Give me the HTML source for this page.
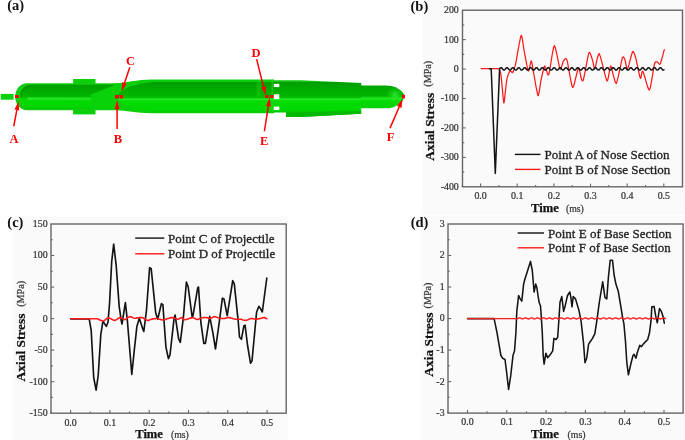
<!DOCTYPE html>
<html><head><meta charset="utf-8"><style>
html,body{margin:0;padding:0;background:#fff;}
body{width:685px;height:440px;overflow:hidden;position:relative;}
svg{position:absolute;left:0;top:0;font-family:"Liberation Serif", serif;will-change:transform;}
.t{stroke:#222;stroke-width:0.3px;}
.k{stroke:#333;stroke-width:0.22px;}
.b{stroke:#111;stroke-width:0.25px;}
</style></head><body>
<svg width="685" height="440" viewBox="0 0 685 440">
<rect x="422" y="0" width="263" height="214.5" fill="#fafafa"/>
<rect x="421" y="216" width="264" height="224" fill="#fafafa"/>
<rect x="13.5" y="216.5" width="274" height="223.5" fill="#fafafa"/>

<defs>
<linearGradient id="g1" gradientUnits="userSpaceOnUse" x1="0" y1="84.8" x2="0" y2="108.8">
 <stop offset="0" stop-color="#009c00"/>
 <stop offset="0.09" stop-color="#00a400"/>
 <stop offset="0.425" stop-color="#00b200"/>
 <stop offset="0.5" stop-color="#00b800"/>
 <stop offset="0.6" stop-color="#06d806"/>
 <stop offset="0.66" stop-color="#04da04"/>
 <stop offset="0.92" stop-color="#02d602"/>
 <stop offset="1" stop-color="#00c800"/>
</linearGradient>
<linearGradient id="g2" gradientUnits="userSpaceOnUse" x1="0" y1="79.4" x2="0" y2="116.9">
 <stop offset="0" stop-color="#14c814"/>
 <stop offset="0.056" stop-color="#12c412"/>
 <stop offset="0.083" stop-color="#009e00"/>
 <stop offset="0.176" stop-color="#00a600"/>
 <stop offset="0.363" stop-color="#00b000"/>
 <stop offset="0.469" stop-color="#00b800"/>
 <stop offset="0.504" stop-color="#12d412"/>
 <stop offset="0.536" stop-color="#26ea26"/>
 <stop offset="0.573" stop-color="#04dc04"/>
 <stop offset="0.816" stop-color="#02d802"/>
 <stop offset="0.87" stop-color="#00c800"/>
 <stop offset="0.904" stop-color="#00c000"/>
 <stop offset="1" stop-color="#00b800"/>
</linearGradient>
<linearGradient id="g4" gradientUnits="userSpaceOnUse" x1="0" y1="85.6" x2="0" y2="108.3">
 <stop offset="0" stop-color="#00a400"/>
 <stop offset="0.45" stop-color="#00b400"/>
 <stop offset="0.52" stop-color="#12d412"/>
 <stop offset="0.58" stop-color="#28e828"/>
 <stop offset="0.66" stop-color="#06dc06"/>
 <stop offset="1" stop-color="#04d004"/>
</linearGradient>
<linearGradient id="hl1" x1="0" y1="0" x2="1" y2="0">
 <stop offset="0" stop-color="#2ee62e" stop-opacity="0"/>
 <stop offset="0.05" stop-color="#34ea34" stop-opacity="0.9"/>
 <stop offset="0.1" stop-color="#2ae62a" stop-opacity="0.8"/>
 <stop offset="1" stop-color="#26e426" stop-opacity="0.8"/>
</linearGradient>
<radialGradient id="nspot" cx="395" cy="95" r="9" gradientUnits="userSpaceOnUse">
 <stop offset="0" stop-color="#30ea30" stop-opacity="0.9"/>
 <stop offset="1" stop-color="#14dc14" stop-opacity="0"/>
</radialGradient>
</defs>
<rect x="0.7" y="93.9" width="12.9" height="5.8" fill="#0ad20a"/>
<rect x="73.1" y="79" width="22.4" height="35.4" fill="#0bcf0b"/>
<path d="M118,83.3 L27,83.3 C19.5,83.3 15.2,90 15.2,96.8 C15.2,103.6 19.5,110.3 27,110.3 L118,110.3 Z" fill="#14cc14"/>
<path d="M118,84.8 L30.5,84.8 A10.6,12 0 0 0 19.9,96.8 A10.6,12 0 0 0 30.5,108.8 L118,108.8 Z" fill="url(#g1)"/>
<path d="M31,85.6 A10,11.2 0 0 0 21,96.8" fill="none" stroke="#008c00" stroke-width="1.6" opacity="0.55"/>
<rect x="26" y="97.4" width="65" height="2.6" fill="url(#hl1)"/>
<path d="M91,94.5 L115,85 L118,85 L118,108.8 L91,108.8 Z" fill="#0ad20a"/>
<path d="M116,83.3 C126,82.6 136,79.6 152,79.4 L274,79.4 L274,113.2 L152,113.2 C136,113 126,110.6 116,110.3 Z" fill="#0ccf0c"/>
<path d="M116.5,97 C121,89.5 131,83.8 156,81.8 L274,81.8 L274,111.6 L156,111.6 C131,110 121,104.5 116.5,97 Z" fill="url(#g2)"/>
<path d="M273,80.2 L300.8,80.2 L361.2,83.1 L361.2,113.7 L300.7,116.9 L286,116.9 L286,112.6 L273,112.6 Z" fill="url(#g2)"/>
<path d="M286,112.6 L361.2,111.2 L361.2,113.7 L300.7,116.9 L286,116.9 Z" fill="#04b804"/>
<rect x="256.8" y="81.8" width="3.8" height="15.5" fill="#10c810" opacity="0.55"/>
<rect x="271.5" y="79.4" width="1.5" height="33.8" fill="#22d622" opacity="0.6"/>
<path d="M361,85.6 L385,85.6 C396,85.6 402.5,90.5 404.9,96.4 C402.5,102.6 396,108.3 385,108.3 L361,108.3 Z" fill="url(#g4)"/>
<path d="M385,85.6 C396,85.6 402.5,90.5 404.9,96.4 C402.5,102.6 396,108.3 385,108.3 Z" fill="url(#nspot)"/>
<rect x="273.8" y="83.8" width="5.5" height="3.3" fill="#fff"/>
<rect x="273.8" y="94.3" width="5.5" height="4.8" fill="#fff"/>
<rect x="273.8" y="106.6" width="5.5" height="3.4" fill="#fff"/>
<rect x="15" y="95" width="3.7" height="3.0" fill="#ff0000"/>
<rect x="115" y="95" width="3.7" height="3.5" fill="#ff0000"/>
<rect x="119.7" y="95" width="3.2" height="3.5" fill="#ff0000"/>
<rect x="265.2" y="95" width="3.4" height="3.0" fill="#ff0000"/>
<rect x="270.3" y="95" width="3.1" height="3.0" fill="#ff0000"/>
<rect x="401.9" y="94.7" width="3.0" height="3.7" fill="#ff0000"/>
<line x1="13.75" y1="126.25" x2="16.8" y2="110.1" stroke="#ff0000" stroke-width="1.5"/><polygon points="18.5,101.25 19.2,110.5 14.5,109.6" fill="#ff0000"/>
<line x1="117.1" y1="129" x2="117.1" y2="109.0" stroke="#ff0000" stroke-width="1.5"/><polygon points="117.1,100 119.5,109.0 114.7,109.0" fill="#ff0000"/>
<line x1="129.8" y1="67.2" x2="124.5" y2="83.1" stroke="#ff0000" stroke-width="1.5"/><polygon points="121.6,91.6 122.2,82.3 126.7,83.8" fill="#ff0000"/>
<line x1="256.6" y1="59.1" x2="263.5" y2="86.6" stroke="#ff0000" stroke-width="1.5"/><polygon points="265.7,95.3 261.2,87.2 265.8,86.0" fill="#ff0000"/>
<line x1="264.4" y1="131.25" x2="268.3" y2="106.4" stroke="#ff0000" stroke-width="1.5"/><polygon points="269.75,97.5 270.7,106.8 266.0,106.0" fill="#ff0000"/>
<line x1="390" y1="128.1" x2="399.2" y2="107.0" stroke="#ff0000" stroke-width="1.5"/><polygon points="402.75,98.75 401.4,108.0 397.0,106.0" fill="#ff0000"/>
<text x="13.9" y="142.75" font-size="12.5" font-weight="bold" fill="#ff0000" text-anchor="middle">A</text>
<text x="118.0" y="142.75" font-size="12.5" font-weight="bold" fill="#ff0000" text-anchor="middle">B</text>
<text x="130.4" y="65.2" font-size="12.5" font-weight="bold" fill="#ff0000" text-anchor="middle">C</text>
<text x="255.9" y="56.5" font-size="12.5" font-weight="bold" fill="#ff0000" text-anchor="middle">D</text>
<text x="264.1" y="145" font-size="12.5" font-weight="bold" fill="#ff0000" text-anchor="middle">E</text>
<text x="390.6" y="141.25" font-size="12.5" font-weight="bold" fill="#ff0000" text-anchor="middle">F</text>
<rect x="462.5" y="10.2" width="220.0" height="176.6" fill="none" stroke="#666" stroke-width="1.4"/>
<line x1="462.5" y1="39.6" x2="465.7" y2="39.6" stroke="#666" stroke-width="1.1"/>
<line x1="462.5" y1="69.1" x2="465.7" y2="69.1" stroke="#666" stroke-width="1.1"/>
<line x1="462.5" y1="98.5" x2="465.7" y2="98.5" stroke="#666" stroke-width="1.1"/>
<line x1="462.5" y1="127.9" x2="465.7" y2="127.9" stroke="#666" stroke-width="1.1"/>
<line x1="462.5" y1="157.4" x2="465.7" y2="157.4" stroke="#666" stroke-width="1.1"/>
<line x1="462.5" y1="24.9" x2="464.3" y2="24.9" stroke="#666" stroke-width="1.1"/>
<line x1="462.5" y1="54.4" x2="464.3" y2="54.4" stroke="#666" stroke-width="1.1"/>
<line x1="462.5" y1="83.8" x2="464.3" y2="83.8" stroke="#666" stroke-width="1.1"/>
<line x1="462.5" y1="113.2" x2="464.3" y2="113.2" stroke="#666" stroke-width="1.1"/>
<line x1="462.5" y1="142.7" x2="464.3" y2="142.7" stroke="#666" stroke-width="1.1"/>
<line x1="462.5" y1="172.1" x2="464.3" y2="172.1" stroke="#666" stroke-width="1.1"/>
<line x1="480.6" y1="186.8" x2="480.6" y2="183.60000000000002" stroke="#666" stroke-width="1.1"/>
<line x1="517.2" y1="186.8" x2="517.2" y2="183.60000000000002" stroke="#666" stroke-width="1.1"/>
<line x1="553.9" y1="186.8" x2="553.9" y2="183.60000000000002" stroke="#666" stroke-width="1.1"/>
<line x1="590.5" y1="186.8" x2="590.5" y2="183.60000000000002" stroke="#666" stroke-width="1.1"/>
<line x1="627.2" y1="186.8" x2="627.2" y2="183.60000000000002" stroke="#666" stroke-width="1.1"/>
<line x1="663.8" y1="186.8" x2="663.8" y2="183.60000000000002" stroke="#666" stroke-width="1.1"/>
<line x1="498.9" y1="186.8" x2="498.9" y2="185.0" stroke="#666" stroke-width="1.1"/>
<line x1="535.6" y1="186.8" x2="535.6" y2="185.0" stroke="#666" stroke-width="1.1"/>
<line x1="572.2" y1="186.8" x2="572.2" y2="185.0" stroke="#666" stroke-width="1.1"/>
<line x1="608.8" y1="186.8" x2="608.8" y2="185.0" stroke="#666" stroke-width="1.1"/>
<line x1="645.5" y1="186.8" x2="645.5" y2="185.0" stroke="#666" stroke-width="1.1"/>
<line x1="462.3" y1="186.8" x2="462.3" y2="185.0" stroke="#666" stroke-width="1.1"/>
<text x="458.8" y="13.1" font-size="9.9" fill="#333" text-anchor="end" class="k">200</text>
<text x="458.8" y="42.5" font-size="9.9" fill="#333" text-anchor="end" class="k">100</text>
<text x="458.8" y="72.0" font-size="9.9" fill="#333" text-anchor="end" class="k">0</text>
<text x="458.8" y="101.4" font-size="9.9" fill="#333" text-anchor="end" class="k">-100</text>
<text x="458.8" y="130.8" font-size="9.9" fill="#333" text-anchor="end" class="k">-200</text>
<text x="458.8" y="160.3" font-size="9.9" fill="#333" text-anchor="end" class="k">-300</text>
<text x="458.8" y="189.7" font-size="9.9" fill="#333" text-anchor="end" class="k">-400</text>
<text x="480.6" y="199.3" font-size="9.9" fill="#333" text-anchor="middle" class="k">0.0</text>
<text x="517.2" y="199.3" font-size="9.9" fill="#333" text-anchor="middle" class="k">0.1</text>
<text x="553.9" y="199.3" font-size="9.9" fill="#333" text-anchor="middle" class="k">0.2</text>
<text x="590.5" y="199.3" font-size="9.9" fill="#333" text-anchor="middle" class="k">0.3</text>
<text x="627.2" y="199.3" font-size="9.9" fill="#333" text-anchor="middle" class="k">0.4</text>
<text x="663.8" y="199.3" font-size="9.9" fill="#333" text-anchor="middle" class="k">0.5</text>
<rect x="51" y="224" width="235.2" height="189.2" fill="none" stroke="#666" stroke-width="1.4"/>
<line x1="51" y1="255.5" x2="54.2" y2="255.5" stroke="#666" stroke-width="1.1"/>
<line x1="51" y1="287.1" x2="54.2" y2="287.1" stroke="#666" stroke-width="1.1"/>
<line x1="51" y1="318.6" x2="54.2" y2="318.6" stroke="#666" stroke-width="1.1"/>
<line x1="51" y1="350.1" x2="54.2" y2="350.1" stroke="#666" stroke-width="1.1"/>
<line x1="51" y1="381.7" x2="54.2" y2="381.7" stroke="#666" stroke-width="1.1"/>
<line x1="51" y1="239.8" x2="52.8" y2="239.8" stroke="#666" stroke-width="1.1"/>
<line x1="51" y1="271.3" x2="52.8" y2="271.3" stroke="#666" stroke-width="1.1"/>
<line x1="51" y1="302.8" x2="52.8" y2="302.8" stroke="#666" stroke-width="1.1"/>
<line x1="51" y1="334.4" x2="52.8" y2="334.4" stroke="#666" stroke-width="1.1"/>
<line x1="51" y1="365.9" x2="52.8" y2="365.9" stroke="#666" stroke-width="1.1"/>
<line x1="51" y1="397.4" x2="52.8" y2="397.4" stroke="#666" stroke-width="1.1"/>
<line x1="70.6" y1="413.2" x2="70.6" y2="410.0" stroke="#666" stroke-width="1.1"/>
<line x1="109.9" y1="413.2" x2="109.9" y2="410.0" stroke="#666" stroke-width="1.1"/>
<line x1="149.2" y1="413.2" x2="149.2" y2="410.0" stroke="#666" stroke-width="1.1"/>
<line x1="188.5" y1="413.2" x2="188.5" y2="410.0" stroke="#666" stroke-width="1.1"/>
<line x1="227.8" y1="413.2" x2="227.8" y2="410.0" stroke="#666" stroke-width="1.1"/>
<line x1="267.1" y1="413.2" x2="267.1" y2="410.0" stroke="#666" stroke-width="1.1"/>
<line x1="90.2" y1="413.2" x2="90.2" y2="411.4" stroke="#666" stroke-width="1.1"/>
<line x1="129.5" y1="413.2" x2="129.5" y2="411.4" stroke="#666" stroke-width="1.1"/>
<line x1="168.8" y1="413.2" x2="168.8" y2="411.4" stroke="#666" stroke-width="1.1"/>
<line x1="208.1" y1="413.2" x2="208.1" y2="411.4" stroke="#666" stroke-width="1.1"/>
<line x1="247.4" y1="413.2" x2="247.4" y2="411.4" stroke="#666" stroke-width="1.1"/>
<line x1="50.9" y1="413.2" x2="50.9" y2="411.4" stroke="#666" stroke-width="1.1"/>
<text x="47.6" y="226.9" font-size="9.9" fill="#333" text-anchor="end" class="k">150</text>
<text x="47.6" y="258.4" font-size="9.9" fill="#333" text-anchor="end" class="k">100</text>
<text x="47.6" y="290.0" font-size="9.9" fill="#333" text-anchor="end" class="k">50</text>
<text x="47.6" y="321.5" font-size="9.9" fill="#333" text-anchor="end" class="k">0</text>
<text x="47.6" y="353.0" font-size="9.9" fill="#333" text-anchor="end" class="k">-50</text>
<text x="47.6" y="384.6" font-size="9.9" fill="#333" text-anchor="end" class="k">-100</text>
<text x="47.6" y="416.1" font-size="9.9" fill="#333" text-anchor="end" class="k">-150</text>
<text x="70.6" y="425.6" font-size="9.9" fill="#333" text-anchor="middle" class="k">0.0</text>
<text x="109.9" y="425.6" font-size="9.9" fill="#333" text-anchor="middle" class="k">0.1</text>
<text x="149.2" y="425.6" font-size="9.9" fill="#333" text-anchor="middle" class="k">0.2</text>
<text x="188.5" y="425.6" font-size="9.9" fill="#333" text-anchor="middle" class="k">0.3</text>
<text x="227.8" y="425.6" font-size="9.9" fill="#333" text-anchor="middle" class="k">0.4</text>
<text x="267.1" y="425.6" font-size="9.9" fill="#333" text-anchor="middle" class="k">0.5</text>
<rect x="448" y="224" width="235.1" height="189.1" fill="none" stroke="#666" stroke-width="1.4"/>
<line x1="448" y1="255.5" x2="451.2" y2="255.5" stroke="#666" stroke-width="1.1"/>
<line x1="448" y1="287.0" x2="451.2" y2="287.0" stroke="#666" stroke-width="1.1"/>
<line x1="448" y1="318.6" x2="451.2" y2="318.6" stroke="#666" stroke-width="1.1"/>
<line x1="448" y1="350.1" x2="451.2" y2="350.1" stroke="#666" stroke-width="1.1"/>
<line x1="448" y1="381.6" x2="451.2" y2="381.6" stroke="#666" stroke-width="1.1"/>
<line x1="448" y1="239.8" x2="449.8" y2="239.8" stroke="#666" stroke-width="1.1"/>
<line x1="448" y1="271.3" x2="449.8" y2="271.3" stroke="#666" stroke-width="1.1"/>
<line x1="448" y1="302.8" x2="449.8" y2="302.8" stroke="#666" stroke-width="1.1"/>
<line x1="448" y1="334.3" x2="449.8" y2="334.3" stroke="#666" stroke-width="1.1"/>
<line x1="448" y1="365.8" x2="449.8" y2="365.8" stroke="#666" stroke-width="1.1"/>
<line x1="448" y1="397.3" x2="449.8" y2="397.3" stroke="#666" stroke-width="1.1"/>
<line x1="467.5" y1="413.1" x2="467.5" y2="409.90000000000003" stroke="#666" stroke-width="1.1"/>
<line x1="506.8" y1="413.1" x2="506.8" y2="409.90000000000003" stroke="#666" stroke-width="1.1"/>
<line x1="546.1" y1="413.1" x2="546.1" y2="409.90000000000003" stroke="#666" stroke-width="1.1"/>
<line x1="585.4" y1="413.1" x2="585.4" y2="409.90000000000003" stroke="#666" stroke-width="1.1"/>
<line x1="624.7" y1="413.1" x2="624.7" y2="409.90000000000003" stroke="#666" stroke-width="1.1"/>
<line x1="664.0" y1="413.1" x2="664.0" y2="409.90000000000003" stroke="#666" stroke-width="1.1"/>
<line x1="487.1" y1="413.1" x2="487.1" y2="411.3" stroke="#666" stroke-width="1.1"/>
<line x1="526.5" y1="413.1" x2="526.5" y2="411.3" stroke="#666" stroke-width="1.1"/>
<line x1="565.8" y1="413.1" x2="565.8" y2="411.3" stroke="#666" stroke-width="1.1"/>
<line x1="605.0" y1="413.1" x2="605.0" y2="411.3" stroke="#666" stroke-width="1.1"/>
<line x1="644.4" y1="413.1" x2="644.4" y2="411.3" stroke="#666" stroke-width="1.1"/>
<line x1="447.9" y1="413.1" x2="447.9" y2="411.3" stroke="#666" stroke-width="1.1"/>
<text x="444.6" y="226.9" font-size="9.9" fill="#333" text-anchor="end" class="k">3</text>
<text x="444.6" y="258.4" font-size="9.9" fill="#333" text-anchor="end" class="k">2</text>
<text x="444.6" y="289.9" font-size="9.9" fill="#333" text-anchor="end" class="k">1</text>
<text x="444.6" y="321.4" font-size="9.9" fill="#333" text-anchor="end" class="k">0</text>
<text x="444.6" y="353.0" font-size="9.9" fill="#333" text-anchor="end" class="k">-1</text>
<text x="444.6" y="384.5" font-size="9.9" fill="#333" text-anchor="end" class="k">-2</text>
<text x="444.6" y="416.0" font-size="9.9" fill="#333" text-anchor="end" class="k">-3</text>
<text x="467.5" y="424.9" font-size="9.9" fill="#333" text-anchor="middle" class="k">0.0</text>
<text x="506.8" y="424.9" font-size="9.9" fill="#333" text-anchor="middle" class="k">0.1</text>
<text x="546.1" y="424.9" font-size="9.9" fill="#333" text-anchor="middle" class="k">0.2</text>
<text x="585.4" y="424.9" font-size="9.9" fill="#333" text-anchor="middle" class="k">0.3</text>
<text x="624.7" y="424.9" font-size="9.9" fill="#333" text-anchor="middle" class="k">0.4</text>
<text x="664.0" y="424.9" font-size="9.9" fill="#333" text-anchor="middle" class="k">0.5</text>
<text x="15.7" y="10.4" font-size="14.5" font-weight="bold" fill="#111" text-anchor="middle">(a)</text>
<text x="419.4" y="10.6" font-size="14.5" font-weight="bold" fill="#111" text-anchor="middle">(b)</text>
<text x="15.4" y="227" font-size="14.5" font-weight="bold" fill="#111" text-anchor="middle">(c)</text>
<text x="419.5" y="227" font-size="14.5" font-weight="bold" fill="#111" text-anchor="middle">(d)</text>
<text transform="translate(430,126.8) rotate(-90)" x="0" y="4.4" font-size="13.4" font-weight="bold" fill="#111" text-anchor="middle" class="b">Axial Stress</text><text transform="translate(427.6,73.8) rotate(-90)" x="0" y="3.4" font-size="10.1" fill="#333" text-anchor="middle" class="k">(MPa)</text>
<text transform="translate(20.5,347.5) rotate(-90)" x="0" y="4.4" font-size="13.4" font-weight="bold" fill="#111" text-anchor="middle" class="b">Axial Stress</text><text transform="translate(20.3,293.9) rotate(-90)" x="0" y="3.4" font-size="10.1" fill="#333" text-anchor="middle" class="k">(MPa)</text>
<text transform="translate(429,344.6) rotate(-90)" x="0" y="4.4" font-size="13.4" font-weight="bold" fill="#111" text-anchor="middle" class="b">Axia Stress</text><text transform="translate(427.7,295.5) rotate(-90)" x="0" y="3.4" font-size="10.1" fill="#333" text-anchor="middle" class="k">(MPa)</text>
<text x="545.0" y="212.3" font-size="12.6" font-weight="bold" fill="#111" text-anchor="middle" class="b">Time</text><text x="574.9" y="212.3" font-size="9.8" fill="#333" text-anchor="middle" class="k">(ms)</text>
<text x="149.1" y="437.8" font-size="12.6" font-weight="bold" fill="#111" text-anchor="middle" class="b">Time</text><text x="179.9" y="437.8" font-size="9.8" fill="#333" text-anchor="middle" class="k">(ms)</text>
<text x="545.0" y="437.5" font-size="12.6" font-weight="bold" fill="#111" text-anchor="middle" class="b">Time</text><text x="576.5" y="437.5" font-size="9.8" fill="#333" text-anchor="middle" class="k">(ms)</text>
<line x1="514.9" y1="154.4" x2="540.5" y2="154.4" stroke="#111" stroke-width="1.4"/><line x1="514.9" y1="169.4" x2="540.5" y2="169.4" stroke="#ff1a1a" stroke-width="1.4"/><text x="544.6" y="158.9" font-size="13" fill="#222" class="t">Point A of Nose Section</text><text x="544.6" y="173.9" font-size="13" fill="#222" class="t">Point B of Nose Section</text>
<line x1="135.2" y1="238.1" x2="164.3" y2="238.1" stroke="#111" stroke-width="1.4"/><line x1="135.2" y1="253.8" x2="164.3" y2="253.8" stroke="#ff1a1a" stroke-width="1.4"/><text x="168" y="242.6" font-size="13" fill="#222" class="t">Point C of Projectile</text><text x="168" y="258.3" font-size="13" fill="#222" class="t">Point D of Projectile</text>
<line x1="517.6" y1="233" x2="544" y2="233" stroke="#111" stroke-width="1.4"/><line x1="517.6" y1="247.8" x2="544" y2="247.8" stroke="#ff1a1a" stroke-width="1.4"/><text x="548" y="237.5" font-size="13" fill="#222" class="t">Point E of Base Section</text><text x="548" y="252.3" font-size="13" fill="#222" class="t">Point F of Base Section</text>
<polyline points="481.3,68.7 499.0,68.7 499.0,68.7 499.2,69.1 499.5,69.8 499.9,70.7 500.3,71.9 500.7,73.3 501.0,75.0 501.3,78.2 501.8,83.3 502.4,89.3 502.9,95.2 503.4,100.0 503.7,102.5 503.9,102.9 504.2,102.1 504.4,100.5 504.6,98.6 504.8,96.6 505.0,95.0 505.2,93.1 505.6,90.2 505.9,86.8 506.3,83.4 506.7,80.5 507.0,78.6 507.4,77.2 507.9,75.6 508.5,74.1 509.1,72.7 509.6,71.6 510.0,71.0 510.4,70.9 510.8,71.2 511.3,71.7 511.8,72.3 512.2,72.6 512.5,72.7 512.8,72.3 513.2,71.6 513.5,70.7 513.9,69.7 514.3,68.7 514.5,68.0 514.7,67.4 514.9,66.7 515.1,65.9 515.4,64.9 515.7,63.6 516.0,62.0 516.6,58.9 517.4,53.8 518.5,47.8 519.6,42.0 520.5,37.5 521.1,35.3 521.6,35.7 522.1,37.7 522.6,40.7 523.1,44.2 523.6,47.5 524.0,50.0 524.5,52.8 525.3,56.9 526.1,61.5 527.0,65.9 527.8,69.3 528.3,71.0 528.8,70.6 529.3,68.8 529.9,66.2 530.4,63.6 530.9,61.6 531.3,60.9 531.7,61.8 532.1,63.9 532.6,66.7 533.1,69.8 533.6,72.7 534.0,75.0 534.5,77.8 535.2,81.9 536.0,86.6 536.9,90.9 537.6,94.2 538.1,95.7 538.5,94.9 539.0,92.6 539.6,89.3 540.1,85.6 540.6,82.3 541.0,80.0 541.5,77.9 542.1,75.1 542.8,72.0 543.5,69.2 544.1,67.0 544.6,66.0 545.1,66.6 545.8,68.5 546.6,71.0 547.4,73.4 548.1,74.9 548.7,74.8 549.4,71.9 550.3,66.4 551.4,59.6 552.5,53.0 553.5,47.8 554.3,45.6 555.1,47.0 556.1,51.0 557.3,56.4 558.4,62.0 559.3,66.6 560.0,69.0 560.5,69.2 561.1,68.2 561.6,66.6 562.2,64.7 562.7,63.0 563.0,62.0 563.3,61.4 563.7,60.7 564.1,60.1 564.5,59.5 564.8,59.1 565.1,58.9 565.4,58.8 565.7,58.7 566.0,58.7 566.4,59.0 566.8,59.7 567.2,60.9 567.8,63.9 568.7,69.0 569.8,75.1 570.9,81.0 571.9,85.5 572.7,87.5 573.5,86.4 574.5,83.0 575.6,78.4 576.8,73.6 577.7,69.8 578.4,68.0 578.9,68.4 579.5,70.3 580.1,72.9 580.7,75.6 581.1,78.0 581.5,79.3 581.8,79.9 582.1,80.5 582.4,80.8 582.7,80.9 583.1,80.4 583.5,79.3 584.1,76.5 585.1,71.6 586.2,65.7 587.3,59.8 588.3,55.2 589.0,52.7 589.6,52.5 590.3,53.5 591.0,55.4 591.7,57.5 592.3,59.5 592.7,60.9 593.0,62.2 593.4,64.0 593.7,65.9 594.1,67.6 594.4,68.8 594.8,69.0 595.3,67.5 596.0,64.4 596.8,60.6 597.7,56.9 598.6,54.3 599.3,53.7 600.2,56.1 601.6,61.1 603.2,67.3 604.7,73.6 606.1,78.6 607.0,81.0 607.6,80.3 608.3,77.6 608.9,73.9 609.6,70.1 610.2,67.1 610.7,66.0 611.4,67.4 612.3,70.8 613.3,75.1 614.4,79.3 615.4,82.4 616.2,83.4 617.0,81.4 618.2,76.9 619.4,71.2 620.7,65.4 621.7,60.5 622.4,57.8 622.9,57.0 623.4,56.9 623.9,57.4 624.3,58.3 624.7,59.1 625.0,59.9 625.3,61.1 625.7,63.0 626.1,65.2 626.6,67.3 627.1,68.7 627.5,69.0 628.1,67.5 629.0,64.4 630.0,60.5 631.1,56.5 632.0,53.3 632.6,51.7 633.1,51.5 633.6,52.1 634.2,53.2 634.7,54.7 635.2,56.3 635.7,57.8 636.3,60.2 637.1,64.1 638.1,68.6 639.0,73.0 639.8,76.5 640.4,78.3 640.8,78.2 641.1,76.8 641.5,74.8 641.9,72.7 642.3,71.3 642.8,71.1 643.5,73.0 644.7,76.7 646.0,81.3 647.3,85.7 648.5,89.0 649.4,90.0 650.2,88.0 651.1,83.6 652.1,77.9 653.1,71.9 653.9,66.9 654.5,64.0 654.9,62.8 655.4,62.1 655.9,61.8 656.3,61.8 656.8,61.8 657.1,61.9 657.5,62.1 658.0,62.7 658.6,63.4 659.2,64.0 659.7,64.3 660.2,64.0 660.7,62.6 661.5,60.0 662.4,56.9 663.2,53.7 663.9,51.1 664.3,49.6" fill="none" stroke="#ff1a1a" stroke-width="1.25" stroke-linejoin="round" stroke-linecap="round"/>
<polyline points="489.5,68.7 491.2,68.7 495.3,173.4 499.6,68.7 500.2,68.2 500.8,67.7 501.4,67.7 502.0,68.2 502.6,69.0 503.2,69.7 503.8,70.1 504.4,70.1 505.0,69.5 505.6,68.8 506.2,68.1 506.8,67.7 507.4,67.8 508.0,68.3 508.6,69.1 509.2,69.8 509.8,70.1 510.4,70.0 511.0,69.4 511.6,68.6 512.2,68.0 512.8,67.7 513.4,67.8 514.0,68.4 514.6,69.2 515.2,69.9 515.8,70.1 516.4,69.9 517.0,69.3 517.6,68.5 518.2,67.9 518.8,67.7 519.4,67.9 520.0,68.6 520.6,69.4 521.2,70.0 521.8,70.1 522.4,69.8 523.0,69.2 523.6,68.4 524.2,67.8 524.8,67.7 525.4,68.0 526.0,68.7 526.6,69.5 527.2,70.0 527.8,70.1 528.4,69.7 529.0,69.0 529.6,68.3 530.2,67.7 530.8,67.7 531.4,68.1 532.0,68.8 532.6,69.6 533.2,70.1 533.8,70.1 534.4,69.6 535.0,68.9 535.6,68.2 536.2,67.7 536.8,67.7 537.4,68.2 538.0,69.0 538.6,69.7 539.2,70.1 539.8,70.1 540.4,69.5 541.0,68.8 541.6,68.1 542.2,67.7 542.8,67.8 543.4,68.3 544.0,69.1 544.6,69.8 545.2,70.1 545.8,70.0 546.4,69.4 547.0,68.6 547.6,68.0 548.2,67.7 548.8,67.8 549.4,68.4 550.0,69.2 550.6,69.9 551.2,70.1 551.8,69.9 552.4,69.3 553.0,68.5 553.6,67.9 554.2,67.7 554.8,67.9 555.4,68.6 556.0,69.4 556.6,70.0 557.2,70.1 557.8,69.8 558.4,69.2 559.0,68.4 559.6,67.8 560.2,67.7 560.8,68.0 561.4,68.7 562.0,69.5 562.6,70.0 563.2,70.1 563.8,69.7 564.4,69.0 565.0,68.3 565.6,67.7 566.2,67.7 566.8,68.1 567.4,68.8 568.0,69.6 568.6,70.1 569.2,70.1 569.8,69.6 570.4,68.9 571.0,68.2 571.6,67.7 572.2,67.7 572.8,68.2 573.4,69.0 574.0,69.7 574.6,70.1 575.2,70.1 575.8,69.5 576.4,68.8 577.0,68.1 577.6,67.7 578.2,67.8 578.8,68.3 579.4,69.1 580.0,69.8 580.6,70.1 581.2,70.0 581.8,69.4 582.4,68.6 583.0,68.0 583.6,67.7 584.2,67.8 584.8,68.4 585.4,69.2 586.0,69.9 586.6,70.1 587.2,69.9 587.8,69.3 588.4,68.5 589.0,67.9 589.6,67.7 590.2,67.9 590.8,68.6 591.4,69.4 592.0,70.0 592.6,70.1 593.2,69.8 593.8,69.2 594.4,68.4 595.0,67.8 595.6,67.7 596.2,68.0 596.8,68.7 597.4,69.5 598.0,70.0 598.6,70.1 599.2,69.7 599.8,69.0 600.4,68.3 601.0,67.7 601.6,67.7 602.2,68.1 602.8,68.8 603.4,69.6 604.0,70.1 604.6,70.1 605.2,69.6 605.8,68.9 606.4,68.2 607.0,67.7 607.6,67.7 608.2,68.2 608.8,69.0 609.4,69.7 610.0,70.1 610.6,70.1 611.2,69.5 611.8,68.8 612.4,68.1 613.0,67.7 613.6,67.8 614.2,68.3 614.8,69.1 615.4,69.8 616.0,70.1 616.6,70.0 617.2,69.4 617.8,68.6 618.4,68.0 619.0,67.7 619.6,67.8 620.2,68.4 620.8,69.2 621.4,69.9 622.0,70.1 622.6,69.9 623.2,69.3 623.8,68.5 624.4,67.9 625.0,67.7 625.6,67.9 626.2,68.6 626.8,69.4 627.4,70.0 628.0,70.1 628.6,69.8 629.2,69.2 629.8,68.4 630.4,67.8 631.0,67.7 631.6,68.0 632.2,68.7 632.8,69.5 633.4,70.0 634.0,70.1 634.6,69.7 635.2,69.0 635.8,68.3 636.4,67.7 637.0,67.7 637.6,68.1 638.2,68.8 638.8,69.6 639.4,70.1 640.0,70.1 640.6,69.6 641.2,68.9 641.8,68.2 642.4,67.7 643.0,67.7 643.6,68.2 644.2,69.0 644.8,69.7 645.4,70.1 646.0,70.1 646.6,69.5 647.2,68.8 647.8,68.1 648.4,67.7 649.0,67.8 649.6,68.3 650.2,69.1 650.8,69.8 651.4,70.1 652.0,70.0 652.6,69.4 653.2,68.6 653.8,68.0 654.4,67.7 655.0,67.8 655.6,68.4 656.2,69.2 656.8,69.9 657.4,70.1 658.0,69.9 658.6,69.3 659.2,68.5 659.8,67.9 660.4,67.7 661.0,67.9 661.6,68.6 662.2,69.4 662.8,70.0 663.4,70.1 664.0,69.8" fill="none" stroke="#141414" stroke-width="1.5" stroke-linejoin="round" stroke-linecap="round"/>
<polyline points="70.6,318.8 89.2,318.8 91.2,330.5 93.7,377.5 96.1,390.2 98.2,375.5 100.8,334.6 102.9,321.3 104.3,323.3 106.3,326.4 108.0,322.3 109.6,302.5 111.7,261.6 113.7,244.2 116.2,265.7 119.2,306.6 121.3,321.0 122.0,324.0 125.4,302.5 127.4,321.0 131.8,374.5 134.2,350.9 136.9,326.4 139.3,318.2 143.0,329.4 143.8,331.5 146.5,310.0 149.6,267.7 151.2,268.8 155.7,312.8 157.7,319.2 161.4,303.6 162.9,304.6 163.9,319.2 165.9,346.8 168.4,358.7 170.0,355.0 174.1,318.2 175.1,315.1 178.6,338.7 180.3,342.3 183.3,318.2 186.4,282.1 188.2,287.0 192.2,317.3 193.0,315.7 197.7,287.8 198.5,287.0 200.9,322.7 203.8,343.4 205.4,343.4 209.7,316.4 212.8,332.3 215.5,349.0 219.2,322.7 222.4,298.2 224.0,299.0 227.2,315.7 232.7,280.7 234.3,283.9 238.3,322.3 239.5,337.0 241.4,339.3 243.9,325.9 245.1,325.1 247.5,345.0 250.5,363.2 252.0,360.9 255.0,329.0 256.6,312.0 258.9,306.4 260.5,308.6 262.3,312.0 266.8,278.0" fill="none" stroke="#141414" stroke-width="1.65" stroke-linejoin="round" stroke-linecap="round"/>
<polyline points="70.6,318.8 97.7,318.8 97.8,318.9 97.9,319.0 98.1,319.1 98.3,319.3 98.6,319.5 98.9,319.6 99.4,319.8 100.2,320.1 101.1,320.5 102.0,320.8 102.9,321.0 103.5,321.0 104.1,320.7 104.9,320.1 105.7,319.4 106.6,318.7 107.4,318.1 108.1,317.9 108.9,318.1 110.1,318.5 111.4,319.1 112.7,319.8 113.8,320.2 114.7,320.4 115.5,320.2 116.4,319.6 117.4,319.0 118.4,318.3 119.3,317.7 120.0,317.5 120.6,317.6 121.4,318.0 122.3,318.6 123.2,319.1 124.0,319.5 124.6,319.6 125.3,319.4 126.2,318.8 127.2,318.1 128.2,317.4 129.1,316.9 129.8,316.6 130.4,316.7 131.2,316.9 132.1,317.3 133.0,317.7 133.8,318.0 134.4,318.2 135.1,318.2 136.0,318.1 137.1,317.9 138.2,317.7 139.1,317.6 139.7,317.5 140.2,317.5 140.8,317.5 141.4,317.6 142.0,317.6 142.5,317.8 143.0,317.9 143.6,318.2 144.4,318.7 145.3,319.2 146.2,319.8 147.0,320.2 147.6,320.4 148.1,320.4 148.8,320.2 149.5,319.9 150.3,319.6 150.9,319.4 151.5,319.2 152.1,319.1 153.0,318.9 154.0,318.7 155.1,318.6 156.0,318.5 156.8,318.5 157.6,318.6 158.7,319.0 159.9,319.3 161.2,319.7 162.4,319.9 163.3,320.0 164.3,319.8 165.7,319.3 167.2,318.7 168.8,318.2 170.2,317.7 171.2,317.5 172.2,317.6 173.4,317.9 174.7,318.3 175.9,318.7 177.0,319.1 177.8,319.2 178.4,319.1 179.2,318.8 179.9,318.4 180.6,318.0 181.2,317.7 181.7,317.6 182.1,317.8 182.6,318.1 183.1,318.6 183.7,319.1 184.2,319.5 184.6,319.7 185.2,319.7 185.9,319.5 186.9,319.2 187.8,318.9 188.6,318.7 189.2,318.5 189.7,318.3 190.4,318.1 191.2,317.9 191.9,317.7 192.6,317.5 193.1,317.5 193.6,317.7 194.3,318.1 195.1,318.5 195.8,319.0 196.5,319.3 197.1,319.5 197.7,319.4 198.5,319.2 199.4,318.8 200.3,318.4 201.1,318.1 201.7,317.9 202.3,317.8 203.1,317.7 204.0,317.6 204.9,317.5 205.7,317.5 206.3,317.5 206.8,317.6 207.5,317.8 208.2,318.1 209.0,318.3 209.7,318.5 210.2,318.5 210.8,318.3 211.6,318.0 212.5,317.5 213.4,317.1 214.2,316.7 214.8,316.6 215.4,316.7 216.2,317.0 217.1,317.3 218.0,317.7 218.8,318.0 219.4,318.2 220.0,318.3 220.8,318.4 221.7,318.5 222.6,318.5 223.4,318.5 224.0,318.5 224.6,318.4 225.4,318.2 226.2,317.9 227.1,317.7 227.9,317.5 228.6,317.5 229.4,317.6 230.6,317.9 231.9,318.3 233.2,318.7 234.4,319.0 235.2,319.2 236.0,319.3 236.9,319.3 237.9,319.2 238.8,319.2 239.7,319.2 240.4,319.2 241.1,319.3 242.0,319.6 243.0,319.9 244.1,320.2 245.0,320.3 245.7,320.4 246.4,320.2 247.3,319.9 248.4,319.5 249.4,319.0 250.3,318.7 251.0,318.5 251.6,318.5 252.4,318.6 253.3,318.8 254.2,319.0 255.0,319.1 255.6,319.2 256.2,319.2 257.0,319.1 257.9,318.9 258.8,318.8 259.6,318.6 260.2,318.5 260.8,318.4 261.5,318.2 262.2,317.9 263.0,317.7 263.6,317.6 264.1,317.5 264.5,317.6 265.1,317.8 265.6,318.1 266.1,318.4 266.5,318.7 266.8,318.8" fill="none" stroke="#ff1a1a" stroke-width="1.6" stroke-linejoin="round" stroke-linecap="round"/>
<polyline points="467.5,318.6 494.1,318.6 497.0,332.7 500.9,355.5 502.7,358.4 505.0,359.5 506.8,373.6 508.6,389.5 510.7,375.9 513.0,355.5 514.5,350.9 515.9,332.7 516.8,311.4 518.6,295.5 520.2,298.9 521.8,301.1 523.6,284.1 524.8,279.5 530.5,261.4 532.3,270.5 534.1,292.0 535.7,284.1 536.8,287.5 539.1,302.3 540.5,306.0 541.5,320.0 542.3,333.0 543.2,355.5 544.1,364.1 545.9,353.2 547.7,357.7 550.5,354.3 552.7,350.9 553.9,338.4 556.1,339.5 557.7,337.3 559.1,316.8 560.0,302.3 561.8,296.6 563.6,311.4 565.2,305.7 567.5,295.5 569.8,292.0 570.9,297.7 572.0,306.8 573.2,296.6 575.5,298.9 578.9,310.2 581.1,321.4 583.4,341.8 585.0,362.7 586.8,357.7 588.6,344.1 590.2,341.8 592.5,338.4 594.8,333.9 596.4,323.6 597.5,315.9 599.3,302.3 602.7,281.8 605.0,297.7 606.8,298.9 608.4,277.3 610.2,260.2 612.5,260.2 614.1,275.0 615.9,284.1 618.2,290.9 620.5,304.5 622.7,318.2 623.9,323.6 625.5,341.8 626.8,362.3 628.4,374.8 630.7,364.5 633.0,355.5 634.1,354.3 635.9,358.2 637.5,352.0 639.8,345.2 641.4,346.8 643.2,344.1 647.7,339.5 649.5,332.7 651.1,320.2 651.8,306.8 654.1,306.4 655.7,315.9 657.3,322.7 659.5,308.6 661.4,311.4 663.2,317.0 664.3,323.2" fill="none" stroke="#141414" stroke-width="1.55" stroke-linejoin="round" stroke-linecap="round"/>
<polyline points="467.5,318.6 515.0,318.6 515.8,318.8 516.6,319.0 517.4,318.8 518.2,318.3 519.0,317.9 519.8,317.8 520.6,318.2 521.4,318.6 522.2,319.0 523.0,318.9 523.8,318.5 524.6,318.0 525.4,317.8 526.2,318.0 527.0,318.4 527.8,318.8 528.6,319.0 529.4,318.8 530.2,318.3 531.0,317.9 531.8,317.8 532.6,318.2 533.4,318.6 534.2,319.0 535.0,318.9 535.8,318.5 536.6,318.0 537.4,317.8 538.2,318.0 539.0,318.4 539.8,318.8 540.6,319.0 541.4,318.8 542.2,318.3 543.0,317.9 543.8,317.8 544.6,318.2 545.4,318.6 546.2,319.0 547.0,318.9 547.8,318.5 548.6,318.0 549.4,317.8 550.2,318.0 551.0,318.4 551.8,318.8 552.6,319.0 553.4,318.8 554.2,318.3 555.0,317.9 555.8,317.8 556.6,318.2 557.4,318.6 558.2,319.0 559.0,318.9 559.8,318.5 560.6,318.0 561.4,317.8 562.2,318.0 563.0,318.4 563.8,318.8 564.6,319.0 565.4,318.8 566.2,318.3 567.0,317.9 567.8,317.8 568.6,318.2 569.4,318.6 570.2,319.0 571.0,318.9 571.8,318.5 572.6,318.0 573.4,317.8 574.2,318.0 575.0,318.4 575.8,318.8 576.6,319.0 577.4,318.8 578.2,318.3 579.0,317.9 579.8,317.8 580.6,318.2 581.4,318.6 582.2,319.0 583.0,318.9 583.8,318.5 584.6,318.0 585.4,317.8 586.2,318.0 587.0,318.4 587.8,318.8 588.6,319.0 589.4,318.8 590.2,318.3 591.0,317.9 591.8,317.8 592.6,318.2 593.4,318.6 594.2,319.0 595.0,318.9 595.8,318.5 596.6,318.0 597.4,317.8 598.2,318.0 599.0,318.4 599.8,318.8 600.6,319.0 601.4,318.8 602.2,318.3 603.0,317.9 603.8,317.8 604.6,318.2 605.4,318.6 606.2,319.0 607.0,318.9 607.8,318.5 608.6,318.0 609.4,317.8 610.2,318.0 611.0,318.4 611.8,318.8 612.6,319.0 613.4,318.8 614.2,318.3 615.0,317.9 615.8,317.8 616.6,318.2 617.4,318.6 618.2,319.0 619.0,318.9 619.8,318.5 620.6,318.0 621.4,317.8 622.2,318.0 623.0,318.4 623.8,318.8 624.6,319.0 625.4,318.8 626.2,318.3 627.0,317.9 627.8,317.8 628.6,318.2 629.4,318.6 630.2,319.0 631.0,318.9 631.8,318.5 632.6,318.0 633.4,317.8 634.2,318.0 635.0,318.4 635.8,318.8 636.6,319.0 637.4,318.8 638.2,318.3 639.0,317.9 639.8,317.8 640.6,318.2 641.4,318.6 642.2,319.0 643.0,318.9 643.8,318.5 644.6,318.0 645.4,317.8 646.2,318.0 647.0,318.4 647.8,318.8 648.6,319.0 649.4,318.8 650.2,318.3 651.0,317.9 651.8,317.8 652.6,318.2 653.4,318.6 654.2,319.0 655.0,318.9 655.8,318.5 656.6,318.0 657.4,317.8 658.2,318.0 659.0,318.4 659.8,318.8 660.6,319.0 661.4,318.8 662.2,318.3 663.0,317.9 663.8,317.8 664.6,318.2 665.4,318.6" fill="none" stroke="#ff1a1a" stroke-width="1.3" stroke-linejoin="round" stroke-linecap="round"/>
</svg>
</body></html>
